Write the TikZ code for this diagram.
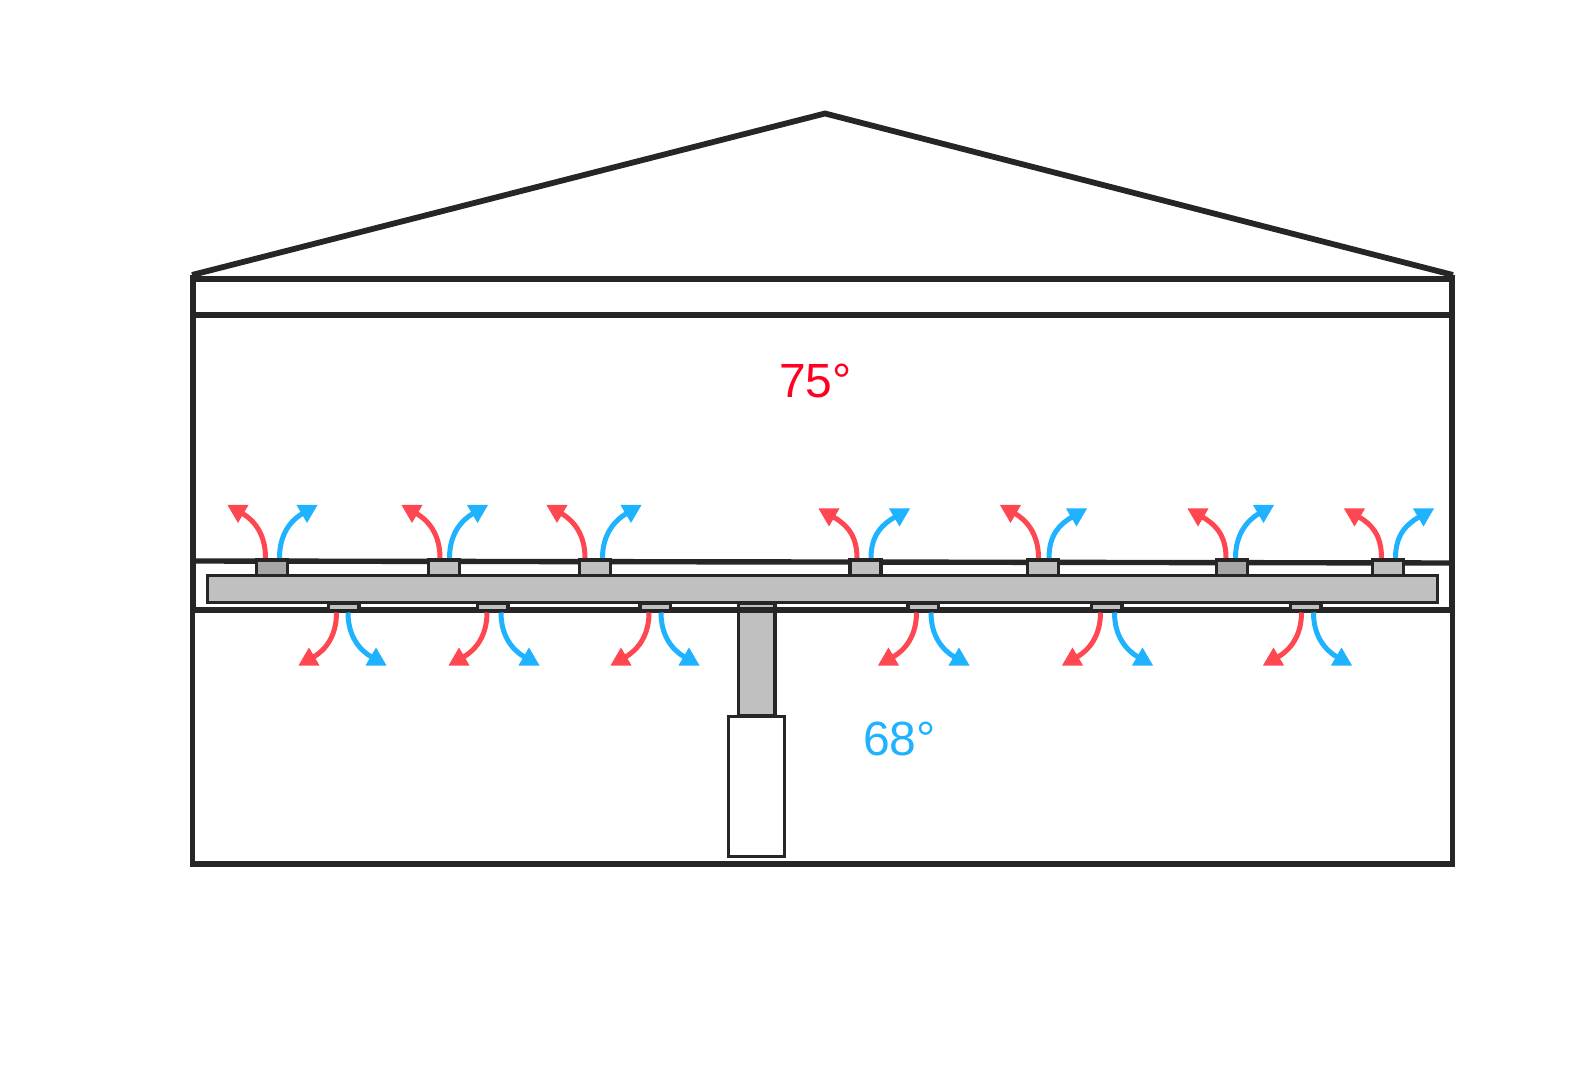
\documentclass[tikz,border=0pt]{standalone}
\usepackage{fontspec}
\setmainfont{Liberation Sans}
\definecolor{ink}{HTML}{262626}
\definecolor{ductgrey}{HTML}{C0C0C0}
\definecolor{darkreg}{HTML}{A6A6A6}
\definecolor{warm}{HTML}{FF4752}
\definecolor{cool}{HTML}{1FB2FF}
\definecolor{warmtext}{HTML}{FF0022}
% \flow{colour}{start x}{start y}{tip x}{tip y}{x sign}{y sign}
\newcommand{\flow}[7]{%
  \fill[#1] (#4,#5) -- ++(#6*21,0) -- ++(-#6*10.5,#7*18) -- cycle;
  \draw[#1,line width=2.5pt] (#2,#3) .. controls (#2,#3-#7*24) and (#4+#6*26.7,#5+#7*15.3) .. (#4+#6*14.7,#5+#7*8.3);
}
\begin{document}
\begin{tikzpicture}[x=0.5pt,y=-0.5pt,
  wall/.style={draw=ink,line width=2.7pt},
  thinwall/.style={draw=ink,line width=2.9pt},
  part/.style={draw=ink,line width=1.6pt,fill=ductgrey},
  darkpart/.style={part,fill=darkreg},
  heat/.style={font=\fontsize{24}{24}\selectfont}]
\useasboundingbox (0,0) rectangle (1590,1074);
% roof and attic
\draw[thinwall,line join=miter] (192,275) -- (825,113.5) -- (1453,275);
\draw[wall] (192,279) -- (1452,279);
\draw[wall] (192,315) -- (1452,315);
% walls
\draw[draw=ink,line width=3pt] (192.5,275) -- (192.5,612);
\draw[draw=ink,line width=3.4pt] (1452,275) -- (1452,612);
\draw[draw=ink,line width=2.6pt] (192.8,610) -- (192.8,864) -- (1452.2,864) -- (1452.2,610);
% ceiling
\draw[wall] (192,561) -- (1452,563);
% supply column and furnace
\draw[wall] (192,610) -- (1452,610);
\draw[part] (738.5,603) rectangle (775,716);
\draw[wall] (738,610) -- (775,610);
\draw[draw=ink,line width=1.6pt,fill=white] (728.5,716.5) rectangle (784.5,856.5);
% lower registers
\foreach \c in {344,493,655.5,923.4,1107,1306}
  \draw[part] (\c-15.5,603) rectangle (\c+15,611);
% duct
\draw[part] (207.5,575.5) rectangle (1437.5,602.5);
% upper registers
\foreach \c in {444,594.6,865.5,1043,1388}
  \draw[part] (\c-15.5,560) rectangle (\c+15.5,575.5);
\foreach \c in {272,1232}
  \draw[darkpart] (\c-15.5,560) rectangle (\c+15.5,575.5);
% upper flows
\foreach \r/\rt/\b/\bt/\ry/\by in {
  265.5/227.5/279.5/317.5/505/505,
  440/401.5/449.5/488/505/505,
  585/546.5/602.5/641.5/505/505,
  857/818.5/871/910/508.5/508.5,
  1038.5/1000/1049/1087/505/508.5,
  1226/1187.5/1235.5/1274/508.5/505,
  1381.5/1344/1395.5/1434/508.5/508.5}{
  \flow{warm}{\r}{558}{\rt}{\ry}{1}{1}
  \flow{cool}{\b}{558}{\bt}{\by}{-1}{1}
}
% lower flows
\foreach \r/\rt/\b/\bt in {
  336.5/298.5/348/386.5,
  487/448.5/501/539.5,
  649/610.5/661/699.5,
  916.5/878/931/969.5,
  1100.5/1062/1114.5/1153,
  1301.5/1263/1313.5/1352}{
  \flow{warm}{\r}{612.5}{\rt}{665.5}{1}{-1}
  \flow{cool}{\b}{612.5}{\bt}{665.5}{-1}{-1}
}
% temperatures
\node[heat,text=warmtext] (upper) at (815.5,380.5) {75°};
\node[heat,text=cool] (lower) at (899.5,739) {68°};
\end{tikzpicture}
\end{document}
